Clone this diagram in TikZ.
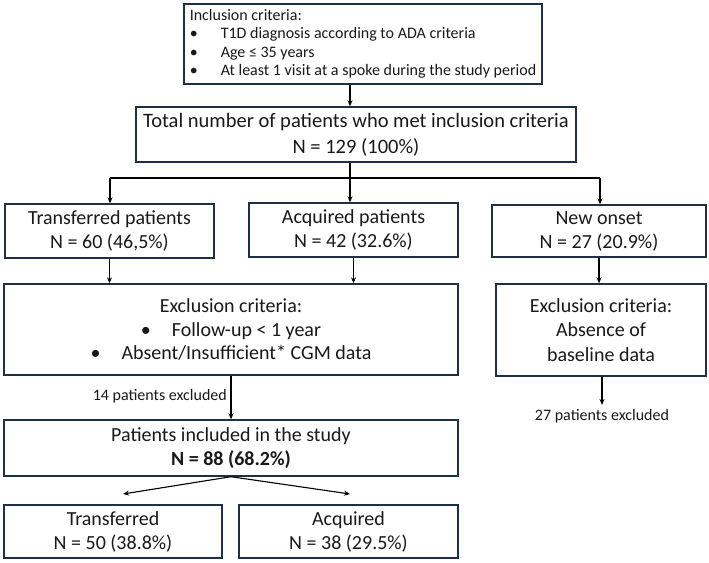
\documentclass[tikz,border=0pt]{standalone}
\usepackage{fontspec}
\setmainfont{Carlito}
\usetikzlibrary{arrows.meta,calc}
\definecolor{boxline}{RGB}{30,48,66}
\definecolor{txt}{RGB}{25,25,25}
\newcommand{\mybul}[1]{\makebox[#1][l]{•}}
\tikzset{
  box/.style={draw=boxline, line width=1.4pt, inner sep=0pt, align=center, text=txt, font=\fontsize{20}{24}\selectfont},
  conn/.style={draw=black, line width=1.1pt},
  arr/.style={conn, -{Stealth[length=6pt,width=5pt]}},
  small/.style={font=\fontsize{16}{19}\selectfont, text=txt, inner sep=0pt},
}
\begin{document}
\begin{tikzpicture}[x=1pt,y=-1pt]
\fill[white] (0,0) rectangle (709,562);
\useasboundingbox (0,0) rectangle (709,562);

\node[box, minimum width=358pt, minimum height=80pt, align=left,
      font=\fontsize{16}{18.5}\selectfont] (incl) at (363,44)
  {\makebox[346pt][l]{Inclusion criteria:}\\
   \mybul{31pt}T1D diagnosis according to ADA criteria\\
   \mybul{31pt}Age ≤ 35 years\\
   \mybul{31pt}At least 1 visit at a spoke during the study period};

\node[box, minimum width=440pt, minimum height=55pt, font=\fontsize{20.5}{26}\selectfont] (total) at (356,134.5)
  {Total number of patients who met inclusion criteria\\ N = 129 (100\%)};

\node[box, minimum width=209pt, minimum height=54pt] (tp) at (109.5,231) {Transferred patients\\ N = 60 (46,5\%)};
\node[box, minimum width=209pt, minimum height=54pt] (ap) at (353.5,230) {Acquired patients\\ N = 42 (32.6\%)};
\node[box, minimum width=214pt, minimum height=52pt] (no) at (599,231) {New onset\\ N = 27 (20.9\%)};

\node[box, minimum width=454pt, minimum height=91pt, font=\fontsize{20}{23.5}\selectfont] (ex) at (231,329.5)
  {Exclusion criteria:\\
   \mybul{31pt}Follow-up < 1 year\\
   \mybul{31pt}Absent/Insufficient* CGM data};
\node[box, minimum width=210pt, minimum height=92pt, font=\fontsize{20}{24.5}\selectfont] (ex2) at (601,330)
  {Exclusion criteria:\\ Absence of\\ baseline data};

\node[box, minimum width=454pt, minimum height=56pt] (pat) at (231,448)
  {Patients included in the study\\ \textbf{N = 88 (68.2\%)}};

\node[box, minimum width=218pt, minimum height=53pt] (tb) at (113,531.5) {Transferred\\ N = 50 (38.8\%)};
\node[box, minimum width=219pt, minimum height=53pt] (ab) at (348.5,531.5) {Acquired\\ N = 38 (29.5\%)};

\node[small, anchor=east] (l14) at (227,396) {14 patients excluded};
\node[small, inner sep=4pt] (l27) at (602,416) {27 patients excluded};

% connectors
\draw[arr] (incl.south -| 350,0) -- (total.north -| 350,0);
\coordinate (split) at (350,178);
\coordinate (bl) at (110,178);
\coordinate (br) at (600,178);
\draw[conn] (total.south -| split) -- (split);
\draw[conn] (bl) -- (br);
\draw[arr] (bl) -- (bl |- tp.north);
\draw[arr] (split) -- (split |- ap.north);
\draw[arr] (br) -- (br |- no.north);

\draw[arr] (tp.south) -- (tp.south |- ex.north);
\draw[arr] (ap.south) -- (ap.south |- ex.north);
\draw[arr] (no.south) -- (no.south |- ex2.north);

\draw[arr] (ex.south) -- (pat.north);
\draw[arr] (ex2.south -| l27.north) -- (l27.north);

\coordinate (tA) at (123,494);
\coordinate (tB) at (350,494);
\draw[arr] (pat.south) -- (tA);
\draw[arr] (pat.south) -- (tB);
\end{tikzpicture}
\end{document}
